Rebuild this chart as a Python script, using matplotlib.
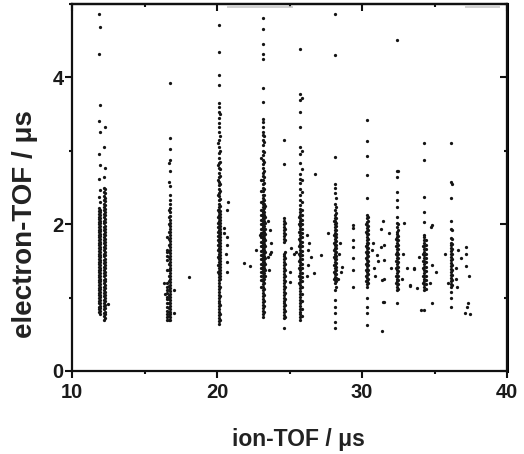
import matplotlib
matplotlib.use('Agg')
import matplotlib.pyplot as plt
from matplotlib.ticker import MultipleLocator

plt.rcParams['font.family'] = ['Liberation Sans', 'DejaVu Sans']

# ---------------- data ----------------
# x positions (ion-TOF, µs) of the vertical point strips
strip_x = [11.84, 11.90, 12.21, 12.26,
           16.78, 16.72, 16.52,
           20.15, 20.22, 20.08,
           23.15, 23.25, 23.06, 23.34,
           24.60, 24.66,
           25.75, 25.83, 25.68,
           28.12, 28.20, 28.04,
           30.32, 30.40, 30.25,
           32.40, 32.48, 32.33,
           34.30, 34.38, 34.22,
           36.16, 36.24]

# electron-TOF values (µs) of the points in each strip
a1 = [0.80,0.84,0.87,0.92,0.95,0.99,1.03,1.06,1.10,1.13,1.17,1.21,1.24,1.28,1.31,1.35,1.38,1.42,1.46,1.49,1.53,1.56,1.60,1.64,1.67,1.71,1.74,1.78,1.82,1.85,1.89,1.92,1.96,2.00,2.03,2.07,2.10,2.14,2.18,2.22,2.37,2.61,2.96,3.40,4.32,4.87]
a2 = [0.78,0.82,0.86,0.89,0.93,0.97,1.01,1.04,1.08,1.12,1.15,1.19,1.23,1.26,1.30,1.33,1.37,1.40,1.44,1.48,1.51,1.55,1.58,1.62,1.66,1.69,1.73,1.76,1.80,1.84,1.87,1.91,1.94,1.98,2.02,2.05,2.09,2.12,2.16,2.20,2.30,2.46,2.80,3.25,3.62,4.69]
b1 = [0.70,0.75,0.79,0.84,0.88,0.93,0.97,1.02,1.06,1.11,1.15,1.20,1.24,1.29,1.33,1.38,1.42,1.47,1.51,1.56,1.60,1.65,1.69,1.74,1.78,1.83,1.87,1.92,1.96,2.01,2.05,2.10,2.14,2.19,2.23,2.28,2.33,2.38,2.44,2.50,2.64,3.05]
b2 = [0.72,0.77,0.81,0.86,0.90,0.95,0.99,1.04,1.08,1.13,1.17,1.22,1.26,1.31,1.35,1.40,1.44,1.49,1.53,1.58,1.62,1.67,1.71,1.76,1.80,1.85,1.89,1.94,1.98,2.03,2.07,2.12,2.16,2.21,2.26,2.31,2.36,2.42,2.48,2.76,3.32]
c1 = [0.69,0.73,0.77,0.81,0.85,0.89,0.93,0.97,1.01,1.05,1.09,1.13,1.17,1.21,1.25,1.29,1.33,1.37,1.41,1.45,1.49,1.53,1.57,1.61,1.65,1.69,1.73,1.77,1.81,1.85,1.89,1.93,1.97,2.01,2.06,2.11,2.16,2.22,2.28,2.33,2.40,2.52,2.73,2.87,3.03,3.17,3.92]
c2 = [0.70,0.75,0.80,0.86,0.92,0.98,1.04,1.10,1.16,1.22,1.30,1.38,1.46,1.55,1.64,1.72,1.80,1.90,2.00,2.10,2.20,2.58,2.83]
c3 = [0.70,0.74,0.78,0.82,0.87,0.93,0.98,1.01,1.06,1.10,1.15,1.20,1.37,1.51,1.56,1.62,1.65,1.83]
d1 = [0.64,0.68,0.72,0.76,0.80,0.84,0.88,0.92,0.96,1.00,1.04,1.08,1.12,1.16,1.20,1.24,1.28,1.32,1.36,1.40,1.44,1.48,1.52,1.56,1.60,1.64,1.68,1.72,1.76,1.80,1.84,1.88,1.92,1.96,2.00,2.04,2.08,2.12,2.16,2.20,2.24,2.28,2.33,2.38,2.43,2.48,2.53,2.58,2.64,2.70,2.76,2.83,2.90,2.97,3.05,3.15,3.25,3.33,3.38,3.45,3.53,3.60,3.65,3.89,4.03,4.35,4.71]
d2 = [0.70,0.78,0.90,1.02,1.14,1.26,1.30,1.34,1.38,1.42,1.46,1.50,1.54,1.58,1.62,1.66,1.70,1.74,1.78,1.82,1.86,1.90,1.94,1.98,2.02,2.06,2.10,2.14,2.18,2.25,2.35,2.45,2.55,2.65,2.75,2.85,3.00,3.20,3.50]
d3 = [1.35,1.45,1.55,1.65,1.72,1.78,1.84,1.90,1.96,2.02,2.10,2.20,2.40,2.60,2.80,3.10]
e1 = [0.74,0.78,0.82,0.86,0.90,0.94,0.98,1.02,1.06,1.10,1.14,1.18,1.22,1.26,1.30,1.33,1.36,1.39,1.42,1.45,1.48,1.51,1.54,1.57,1.60,1.63,1.66,1.69,1.72,1.75,1.78,1.81,1.84,1.87,1.90,1.93,1.96,1.99,2.02,2.05,2.08,2.11,2.14,2.17,2.20,2.24,2.28,2.32,2.36,2.40,2.45,2.50,2.55,2.60,2.65,2.70,2.76,2.82,2.88,2.94,3.00,3.08,3.15,3.22,3.26,3.32,3.39,3.44,3.67,3.85,4.25,4.32,4.46,4.66,4.81]
e2 = [0.80,0.88,0.96,1.04,1.12,1.20,1.25,1.29,1.33,1.37,1.41,1.45,1.49,1.53,1.57,1.61,1.65,1.69,1.73,1.77,1.81,1.85,1.89,1.93,1.97,2.01,2.05,2.09,2.13,2.17,2.22,2.27,2.33,2.40,2.48,2.56,2.64,2.72,2.85,2.98,3.12,3.20]
e3 = [1.15,1.24,1.30,1.35,1.40,1.46,1.52,1.58,1.64,1.70,1.76,1.82,1.88,1.94,2.00,2.06,2.12,2.20,2.30,2.45,2.60,2.90]
e4 = [1.30,1.38,1.46,1.54,1.62,1.70,1.78,1.86,1.94,2.02,2.10,2.25]
f1 = [0.58,0.72,0.76,0.80,0.84,0.88,0.92,0.96,1.00,1.04,1.08,1.12,1.16,1.20,1.24,1.28,1.32,1.36,1.40,1.44,1.48,1.52,1.56,1.60,1.76,1.80,1.84,1.88,1.92,1.96,2.00,2.04,2.08,2.82,3.15]
f2 = [0.74,0.82,0.90,0.98,1.06,1.14,1.22,1.30,1.38,1.46,1.54,1.62,1.78,1.86,1.94,2.02]
g1 = [0.69,0.73,0.77,0.81,0.85,0.89,0.93,0.97,1.01,1.05,1.09,1.13,1.17,1.21,1.25,1.29,1.33,1.37,1.41,1.45,1.49,1.53,1.57,1.61,1.65,1.69,1.73,1.77,1.81,1.85,1.89,1.93,1.97,2.01,2.05,2.09,2.13,2.17,2.21,2.26,2.33,2.40,2.48,2.56,2.62,2.69,2.83,2.96,3.05,3.32,3.53,3.69,3.78,4.39]
g2 = [0.75,0.85,0.95,1.05,1.15,1.22,1.28,1.34,1.40,1.46,1.52,1.58,1.64,1.70,1.76,1.82,1.88,1.94,2.00,2.06,2.12,2.20,2.30,2.44,2.60,2.75,3.00,3.72]
g3 = [1.20,1.30,1.40,1.50,1.60,1.70,1.80,1.90,2.00,2.10]
h1 = [0.58,0.67,0.79,0.87,0.97,1.10,1.20,1.24,1.28,1.32,1.36,1.40,1.44,1.48,1.52,1.56,1.60,1.64,1.68,1.72,1.76,1.80,1.84,1.88,1.92,1.96,2.00,2.04,2.08,2.12,2.19,2.28,2.42,2.49,2.55,2.91,4.30,4.87]
h2 = [1.15,1.22,1.27,1.32,1.37,1.42,1.47,1.52,1.57,1.62,1.67,1.72,1.77,1.82,1.87,1.92,1.97,2.02,2.08,2.15,2.24,2.36]
h3 = [1.25,1.35,1.45,1.55,1.65,1.75,1.85,2.05]
i1 = [0.63,0.79,0.87,1.00,1.15,1.19,1.23,1.27,1.31,1.35,1.39,1.43,1.47,1.51,1.55,1.59,1.63,1.67,1.71,1.75,1.79,1.83,1.87,1.91,1.95,1.99,2.03,2.08,2.12,2.36,2.67,2.93,3.14,3.42]
i2 = [1.20,1.26,1.32,1.38,1.44,1.50,1.56,1.62,1.68,1.74,1.80,1.86,1.92,1.98,2.05,2.10]
i3 = [1.22,1.30,1.38,1.46,1.54,1.62,1.70,1.90,2.00]
j1 = [0.92,1.10,1.14,1.18,1.22,1.26,1.30,1.34,1.38,1.42,1.46,1.50,1.54,1.58,1.62,1.66,1.70,1.74,1.78,1.82,1.86,1.90,1.96,2.02,2.10,2.24,2.33,2.44,2.64,2.73,4.51]
j2 = [1.12,1.18,1.24,1.30,1.36,1.42,1.48,1.54,1.60,1.66,1.72,1.78,1.84,1.92,2.00,2.72]
j3 = [1.20,1.30,1.40,1.50,1.60,1.70,1.80]
k1 = [0.83,1.10,1.14,1.18,1.22,1.26,1.30,1.34,1.38,1.42,1.46,1.50,1.54,1.58,1.62,1.66,1.70,1.74,1.78,1.82,1.85,2.03,2.17,2.37,2.88,3.10]
k2 = [1.12,1.18,1.24,1.30,1.36,1.42,1.48,1.54,1.60,1.66,1.72,1.78]
k3 = [1.20,1.30,1.40,1.50,1.60,1.70]
l1 = [0.87,0.99,1.08,1.15,1.19,1.23,1.27,1.31,1.35,1.39,1.43,1.47,1.51,1.55,1.59,1.63,1.67,1.71,1.75,1.81,1.94,2.05,2.36,2.58,3.10]
l2 = [1.17,1.24,1.31,1.38,1.45,1.52,1.59,1.66,1.73,1.80,1.92,2.55]

# isolated points off the strips
stray_x = [12.50, 16.35, 16.40, 17.03, 17.03, 18.07,
           20.74, 20.72, 20.70, 20.72, 20.68, 20.70, 20.50, 20.45, 20.60, 21.88, 22.30,
           23.66, 23.70, 23.65, 23.62, 22.70, 23.75, 23.50, 23.55, 22.95,
           25.08, 25.05, 25.03, 25.30,
           26.20, 26.25, 26.30, 26.20, 26.35, 25.45, 26.76, 27.15, 26.70, 26.50,
           27.68, 28.60, 28.55, 28.40, 28.35, 28.50,
           29.35, 29.38, 29.40, 29.36, 29.38, 29.35, 29.40,
           31.30, 31.30, 31.00, 31.35, 31.36, 30.80, 30.70, 30.90, 31.10, 30.75, 31.45, 31.45,
           31.86, 32.00, 33.10, 32.85, 32.90, 32.75, 33.30, 33.60, 31.50, 31.50, 31.55, 31.50,
           34.80, 34.80, 34.10, 33.60, 33.80, 33.30, 35.10, 34.80, 34.75, 33.90, 34.70,
           35.70, 36.80, 37.20, 37.20, 37.20, 37.36, 37.30, 37.25, 37.10, 37.45, 36.50, 36.45, 36.55, 35.90, 36.60]
stray_y = [0.91, 1.20, 1.05, 1.10, 0.79, 1.28,
           2.30, 2.19, 1.83, 1.71, 1.49, 1.35, 1.88, 1.95, 1.60, 1.47, 1.43,
           1.92, 1.74, 1.60, 1.37, 1.65, 1.62, 1.55, 2.05, 1.85,
           1.67, 1.35, 1.21, 1.60,
           1.85, 1.65, 1.45, 1.30, 1.75, 1.62, 2.69, 1.58, 1.33, 1.55,
           1.88, 1.42, 1.35, 1.60, 1.25, 1.75,
           1.99, 1.95, 1.78, 1.69, 1.54, 1.38, 1.15,
           1.94, 1.69, 1.58, 1.24, 0.55, 1.40, 1.65, 1.30, 1.50, 1.75, 2.05, 0.94,
           1.88, 1.40, 1.40, 1.60, 2.01, 1.25, 1.17, 1.39, 1.71, 1.51, 1.25, 0.94,
           1.99, 0.92, 0.83, 1.40, 1.13, 1.16, 1.35, 1.45, 1.96, 1.55, 1.20,
           1.59, 1.54, 1.69, 1.60, 1.43, 1.29, 0.93, 0.87, 0.79, 0.78, 1.40, 1.25, 1.15, 1.20, 1.65]

# faint grey scan artefacts along the top frame
artefact_x0 = [20.67, 37.10]
artefact_x1 = [25.25, 39.50]
artefact_y = [4.965, 4.965]

x_ticks = [10, 20, 30, 40]
y_ticks = [0, 2, 4]

# ---------------- figure ----------------
strips = [a1, a2, b1, b2, c1, c2, c3, d1, d2, d3, e1, e2, e3, e4,
          f1, f2, g1, g2, g3, h1, h2, h3, i1, i2, i3, j1, j2, j3,
          k1, k2, k3, l1, l2]

fig = plt.figure(figsize=(5.24, 4.54), dpi=100)
ax = fig.add_axes([72/524, 83/454, 435/524, 367/454])

dot_color = '#151515'
dot_size = 5.5
for xs, ys in zip(strip_x, strips):
    ax.scatter([xs] * len(ys), ys, s=dot_size, c=dot_color, marker='o', linewidths=0, zorder=3)
ax.scatter(stray_x, stray_y, s=dot_size, c=dot_color, marker='o', linewidths=0, zorder=3)
ax.hlines(artefact_y, artefact_x0, artefact_x1, colors='#c8c8c8', linewidth=1.2, zorder=2)

ax.set_xlim(10, 40)
ax.set_ylim(0, 5)
ax.set_xticks(x_ticks)
ax.set_yticks(y_ticks)
ax.xaxis.set_minor_locator(MultipleLocator(5))
ax.yaxis.set_minor_locator(MultipleLocator(1))

for sp in ax.spines.values():
    sp.set_linewidth(1.6)
    sp.set_color('#111111')

ax.tick_params(which='both', direction='out', width=1.5, colors='#111111',
               top=False, right=False)
ax.tick_params(which='major', length=5)
ax.tick_params(which='minor', length=2.5)
ax.tick_params(axis='x', which='major', pad=4)
ax.tick_params(axis='y', which='major', pad=1)
for lab in ax.get_xticklabels() + ax.get_yticklabels():
    lab.set_fontweight('bold')
    lab.set_fontsize(14.5)
    lab.set_color('#1a1a1a')

# mirrored inward ticks on top and right
sec_x = ax.secondary_xaxis('top')
sec_x.set_xticks(x_ticks)
sec_x.xaxis.set_minor_locator(MultipleLocator(5))
sec_x.tick_params(which='both', direction='in', width=1.5, labeltop=False, colors='#111111')
sec_x.tick_params(which='major', length=5)
sec_x.tick_params(which='minor', length=2.5)
sec_x.spines['top'].set_linewidth(1.6)

sec_y = ax.secondary_yaxis('right')
sec_y.set_yticks(y_ticks)
sec_y.yaxis.set_minor_locator(MultipleLocator(1))
sec_y.tick_params(which='both', direction='in', width=1.5, labelright=False, colors='#111111')
sec_y.tick_params(which='major', length=5)
sec_y.tick_params(which='minor', length=2.5)
sec_y.spines['right'].set_linewidth(2.2)

ax.set_xlabel('ion-TOF / μs', fontsize=16.5, fontweight='bold', color='#222222')
ax.set_ylabel('electron-TOF / μs', fontsize=20, fontweight='bold', color='#222222')
ax.xaxis.set_label_coords(0.52, -0.155)
ax.yaxis.set_label_coords(-0.078, 0.40)
ax.xaxis.label.set_verticalalignment('top')

fig.savefig('out.png', dpi=100)
